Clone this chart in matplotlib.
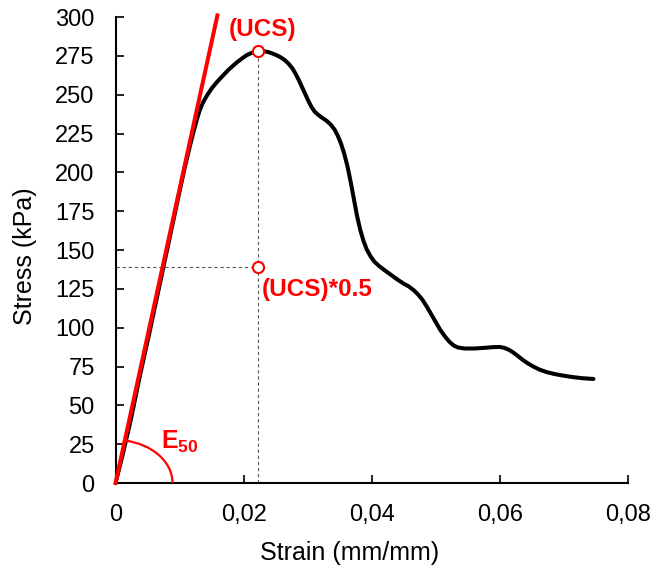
import numpy as np
import matplotlib
matplotlib.use("Agg")
import matplotlib.pyplot as plt
from matplotlib.patches import Arc

# データ
strain = [0, 0.0011, 0.0024, 0.0038, 0.0053, 0.0068, 0.0083, 0.0098, 0.0108, 0.0117,
          0.0123, 0.0127, 0.0131, 0.0136, 0.0142, 0.0150, 0.0158, 0.0167, 0.0175, 0.0183,
          0.0190, 0.0198, 0.0205, 0.0213, 0.0222, 0.0230, 0.0238, 0.0245, 0.0252, 0.0258,
          0.0264, 0.0270, 0.0276, 0.0281, 0.0286, 0.0291, 0.0296, 0.0301, 0.0306, 0.0311,
          0.0317, 0.0323, 0.0330, 0.0336, 0.0342, 0.0347, 0.0352, 0.0357, 0.0362, 0.0367,
          0.0372, 0.0377, 0.0382, 0.0387, 0.0392, 0.0398, 0.0404, 0.0412, 0.0420, 0.0430,
          0.0440, 0.0450, 0.0458, 0.0465, 0.0472, 0.0479, 0.0486, 0.0493, 0.0500, 0.0507,
          0.0514, 0.0521, 0.0528, 0.0535, 0.0545, 0.0560, 0.0575, 0.0590, 0.0600, 0.0607,
          0.0614, 0.0621, 0.0628, 0.0635, 0.0643, 0.0652, 0.0662, 0.0673, 0.0685, 0.0698,
          0.0712, 0.0728, 0.0746]
stress = [0, 18, 41, 69, 97, 126, 155, 184, 203, 218.5,
          228, 234, 239.5, 244.5, 249, 254, 258, 262, 265.5, 268.5,
          271, 273.5, 275.5, 277, 278, 278, 277.5, 276.5, 275.3, 274,
          272.3, 270, 267, 263.5, 259.5, 255, 250.5, 246, 242, 239,
          236.8, 235, 233, 230.7, 227.5, 223.5, 218.5, 212, 204, 194,
          183, 172, 163, 156, 150.5, 146, 142.5, 139.5, 137, 134,
          131, 128.3, 126.5, 124.3, 121.5, 118, 113.5, 108.5, 103.5, 98.5,
          94.5, 91, 88.5, 87.2, 86.6, 86.6, 87, 87.5, 87.6, 87,
          85.8, 84, 81.8, 79.5, 77.2, 75, 73, 71.4, 70.2, 69.2,
          68.3, 67.5, 67]

ucs_strain = 0.0222
ucs = 278
half_ucs = ucs * 0.5
e50_line_x = [0, 0.0159]
e50_line_y = [0, 301]

x_ticks = [0, 0.02, 0.04, 0.06, 0.08]
x_tick_labels = ["0", "0,02", "0,04", "0,06", "0,08"]
y_ticks = list(range(0, 301, 25))

# フォント
plt.rcParams['font.family'] = 'Liberation Sans'
plt.rcParams['font.size'] = 17
plt.rcParams['ytick.direction'] = 'in'
plt.rcParams['xtick.direction'] = 'in'
plt.rcParams['mathtext.fontset'] = 'custom'
plt.rcParams['mathtext.bf'] = 'Liberation Sans:bold'
plt.rcParams['mathtext.rm'] = 'Liberation Sans'

fig = plt.figure(figsize=(6.52, 5.69), dpi=100)
ax = fig.add_axes([0.1772, 0.1511, 0.7860, 0.8190])

# 補助線
ax.plot([ucs_strain, ucs_strain], [0, ucs], color="#595959", lw=0.8,
        dashes=(3, 2.5), zorder=2)
ax.plot([0, ucs_strain], [half_ucs, half_ucs], color="#595959", lw=0.8,
        dashes=(3, 2.5), zorder=2)

ax.plot(strain, stress, color="black", lw=2.9, solid_capstyle="round",
        solid_joinstyle="round", zorder=3)
ax.plot(e50_line_x, e50_line_y, color="red", lw=2.9, clip_on=False, zorder=4)

theta2 = np.degrees(np.arctan2(e50_line_y[1], e50_line_x[1]))
ax.add_patch(Arc((0, 0), width=2 * 0.0089, height=2 * 27.7, theta1=0, theta2=theta2,
                 color="red", lw=1.6, zorder=4))

ax.plot([ucs_strain, ucs_strain], [ucs, half_ucs], linestyle="none", marker="o",
        markersize=8, markerfacecolor="white", markeredgecolor="red",
        markeredgewidth=1.5, clip_on=False, zorder=5)

ax.text(0.0230, 292, "(UCS)", color="red", fontweight="bold", fontsize=17.5,
        ha="center", va="center", clip_on=False)
ax.text(0.02285, 124.5, "(UCS)*0.5", color="red", fontweight="bold", fontsize=17.5,
        ha="left", va="center")
ax.text(0.0071, 22.3, r"$\mathbf{E_{50}}$", color="red", fontsize=18,
        ha="left", va="baseline")

ax.set_xlim(0, 0.08)
ax.set_ylim(0, 300)
ax.set_xticks(x_ticks)
ax.set_xticklabels(x_tick_labels)
ax.set_yticks(y_ticks)
ax.tick_params(axis="both", length=5.5, width=1.2, pad=15)
for s in ["top", "right"]:
    ax.spines[s].set_visible(False)
for s in ["left", "bottom"]:
    ax.spines[s].set_linewidth(1.5)

ax.set_xlabel("Strain (mm/mm)", fontsize=18)
ax.set_ylabel("Stress (kPa)", fontsize=18)
ax.xaxis.set_label_coords(0.4576, -0.125)
ax.yaxis.set_label_coords(-0.154, 0.486)

plt.savefig("out.png", dpi=100)
